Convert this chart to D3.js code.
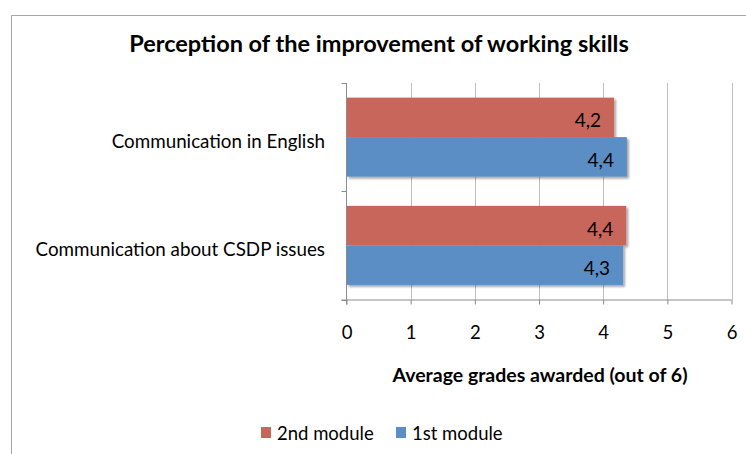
<!DOCTYPE html>
<html>
<head>
<meta charset="utf-8">
<script src="https://cdn.jsdelivr.net/npm/d3@7"></script>
<style>
  body { margin: 0; background: #fff; }
  svg { display: block; font-family: Lato, "Open Sans", sans-serif; }
</style>
</head>
<body>
<svg id="chart" width="746" height="454"></svg>
<script>
const categories = ["Communication in English", "Communication about CSDP issues"];
const seriesNames = ["2nd module", "1st module"];
const secondModule = [4.17, 4.36];
const firstModule = [4.37, 4.31];
const valueLabels = [["4,2", "4,4"], ["4,4", "4,3"]];
const xTicks = [0, 1, 2, 3, 4, 5, 6];
const colors = ["#c9665b", "#5b8ec6"];

const svg = d3.select("#chart");

// outer chart frame (only left and top edges fall inside the picture)
svg.append("path")
    .attr("d", "M11.5,454 V15.5 H746")
    .attr("fill", "none")
    .attr("stroke", "#a6a6a6")
    .attr("stroke-width", 1);

let defs = svg.append("defs");
let f = defs.append("filter").attr("id", "shadow")
    .attr("x", "-5%").attr("y", "-20%").attr("width", "115%").attr("height", "150%");
f.append("feDropShadow").attr("dx", 2).attr("dy", 2).attr("stdDeviation", 1.2)
    .attr("flood-color", "#000").attr("flood-opacity", 0.35);

svg.append("text")
    .attr("x", 379).attr("y", 52)
    .attr("text-anchor", "middle")
    .attr("font-weight", "bold")
    .attr("font-size", 23.5)
    .attr("fill", "#000")
    .text("Perception of the improvement of working skills");

const plotLeft = 346.5, plotRight = 731.5, plotTop = 83, plotBottom = 299.5;

let x = d3.scaleLinear().domain([0, 6]).range([plotLeft, plotRight]);
let y = d3.scaleBand().domain(categories).range([plotTop, plotBottom]);
let inner = d3.scaleBand().domain(seriesNames).range([0, y.bandwidth()]).paddingOuter(0.37).paddingInner(0);

// vertical gridlines
svg.append("g").selectAll("line")
    .data(xTicks.slice(1))
    .enter()
    .append("line")
    .attr("x1", d => Math.round(x(d)) + 0.5)
    .attr("x2", d => Math.round(x(d)) + 0.5)
    .attr("y1", plotTop)
    .attr("y2", plotBottom)
    .attr("stroke", "#bfbfbf")
    .attr("stroke-width", 1);

// bars
let rows = categories.map((c, i) => [
    { cat: c, s: seriesNames[0], v: secondModule[i], label: valueLabels[i][0], color: colors[0] },
    { cat: c, s: seriesNames[1], v: firstModule[i], label: valueLabels[i][1], color: colors[1] }
]).flat();

svg.append("g").selectAll("rect")
    .data(rows)
    .enter()
    .append("rect")
    .attr("x", x(0))
    .attr("y", d => y(d.cat) + inner(d.s))
    .attr("width", d => x(d.v) - x(0))
    .attr("height", inner.bandwidth())
    .attr("fill", d => d.color)
    .attr("filter", "url(#shadow)");

svg.append("g").selectAll("text")
    .data(rows)
    .enter()
    .append("text")
    .attr("x", d => x(d.v) - 13)
    .attr("y", d => y(d.cat) + inner(d.s) + inner.bandwidth() / 2 + 10)
    .attr("text-anchor", "end")
    .attr("font-size", 19)
    .attr("fill", "#000")
    .text(d => d.label);

// x axis
let xAxis = d3.axisBottom(x).tickValues(xTicks).tickSize(5).tickPadding(21).tickFormat(d3.format("d"));
let gx = svg.append("g").attr("transform", `translate(0,${plotBottom})`).call(xAxis);
gx.select(".domain").attr("stroke", "#8c8c8c").attr("d", `M${plotLeft - 5},0.5H${plotRight}`);
gx.selectAll(".tick line").attr("stroke", "#8c8c8c");
gx.selectAll(".tick text").attr("font-size", 18.5).attr("fill", "#000").attr("font-family", "Lato, sans-serif");

// y axis
let boundaries = [plotTop, plotTop + y.bandwidth(), plotBottom];
let gy = svg.append("g");
gy.append("line")
    .attr("x1", plotLeft).attr("x2", plotLeft)
    .attr("y1", plotTop).attr("y2", plotBottom + 5)
    .attr("stroke", "#8c8c8c");
gy.selectAll(".yt")
    .data(boundaries)
    .enter()
    .append("line")
    .attr("x1", plotLeft - 5).attr("x2", plotLeft)
    .attr("y1", d => Math.round(d) + 0.5).attr("y2", d => Math.round(d) + 0.5)
    .attr("stroke", "#8c8c8c");
gy.selectAll("text")
    .data(categories)
    .enter()
    .append("text")
    .attr("x", 325)
    .attr("y", d => y(d) + y.bandwidth() / 2 + 11)
    .attr("text-anchor", "end")
    .attr("font-size", 18.8)
    .attr("fill", "#000")
    .text(d => d);

svg.append("text")
    .attr("x", 540).attr("y", 382)
    .attr("text-anchor", "middle")
    .attr("font-weight", "bold")
    .attr("font-size", 19.5)
    .attr("fill", "#000")
    .text("Average grades awarded (out of 6)");

// legend
const legendX = [261, 396];
let lg = svg.append("g").selectAll("g")
    .data(seriesNames)
    .enter()
    .append("g")
    .attr("transform", (d, i) => `translate(${legendX[i]},433)`);
lg.append("rect").attr("x", 0).attr("y", -6).attr("width", 10).attr("height", 11)
    .attr("fill", (d, i) => colors[i]);
lg.append("text").attr("x", 16).attr("y", 7)
    .attr("font-size", 18.5)
    .attr("fill", "#000")
    .text(d => d);
</script>
</body>
</html>
